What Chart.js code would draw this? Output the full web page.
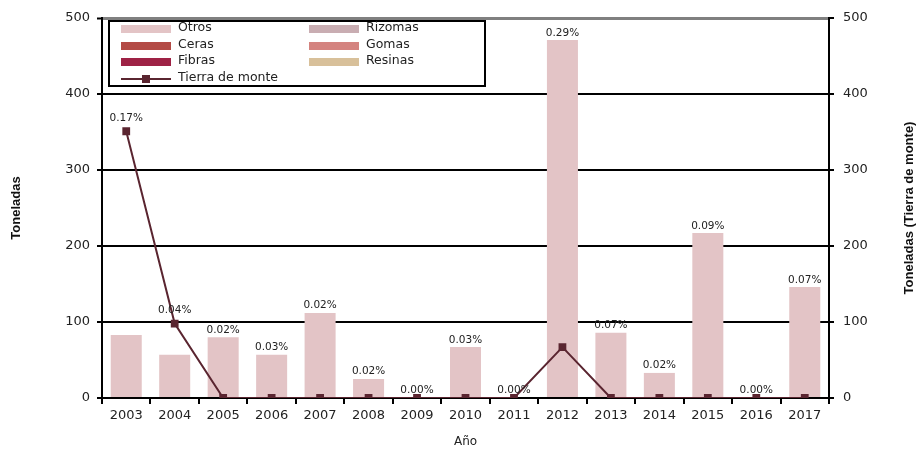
<!DOCTYPE html>
<html>
<head>
<meta charset="utf-8">
<script src="https://cdn.jsdelivr.net/npm/chart.js@4.4.0/dist/chart.umd.min.js"></script>
<style>
  html, body { margin: 0; padding: 0; background: #fff; }
  #wrap { position: relative; width: 916px; height: 449px; }
  #legend {
    position: absolute; left: 108px; top: 20px; width: 374px; height: 63px;
    border: 2px solid #000; background: #fff;
    font-family: "DejaVu Sans", sans-serif; font-size: 12.5px; color: #222;
  }
  .item { position: absolute; height: 16px; line-height: 16px; white-space: nowrap; }
  .sw { position: absolute; left: 0; top: 4px; width: 50px; height: 8px; }
  .ln { position: absolute; left: 0; top: 7px; width: 50px; height: 2px; }
  .mk { position: absolute; left: 21px; top: 4px; width: 8px; height: 8px; }
  .txt { position: absolute; left: 57px; top: -2px; }
</style>
</head>
<body>
<div id="wrap">
  <canvas id="chart" width="916" height="449"></canvas>
  <div id="legend"></div>
</div>
<script>
// Data
const years = ["2003","2004","2005","2006","2007","2008","2009","2010","2011","2012","2013","2014","2015","2016","2017"];
const otros   = [83, 57, 80, 57, 112, 25, 0, 67, 0, 471, 86, 33, 217, 0, 146];
const rizomas = [0, 0, 0, 0, 0, 0, 0, 0, 0, 0, 0, 0, 0, 0, 0];
const ceras   = [0, 0, 0, 0, 0, 0, 0, 0, 0, 0, 0, 0, 0, 0, 0];
const gomas   = [0, 0, 0, 0, 0, 0, 0, 0, 0, 0, 0, 0, 0, 0, 0];
const fibras  = [0, 0, 0, 0, 0, 0, 0, 0, 0, 0, 0, 0, 0, 0, 0];
const resinas = [0, 0, 0, 0, 0, 0, 0, 0, 0, 0, 0, 0, 0, 0, 0];
const tierraDeMonte = [351, 98, 0, 0, 0, 0, 0, 0, 0, 67, 0, 0, 0, 0, 0];
const porcentajes = ["0.17%","0.04%","0.02%","0.03%","0.02%","0.02%","0.00%","0.03%","0.00%","0.29%","0.07%","0.02%","0.09%","0.00%","0.07%"];
const yTicks = [0, 100, 200, 300, 400, 500];

const lineColor = "#5a2530";
const tickFont = { family: "DejaVu Sans", size: 13 };

function barSet(label, data, color) {
  return { type: "bar", label: label, data: data, backgroundColor: color,
           yAxisID: "y", order: 1, barPercentage: 0.64, categoryPercentage: 1 };
}

const datasets = [
  barSet("Otros", otros, "#e3c4c6"),
  barSet("Rizomas", rizomas, "#c9adb2"),
  barSet("Ceras", ceras, "#b34a45"),
  barSet("Gomas", gomas, "#d4837f"),
  barSet("Fibras", fibras, "#9e2245"),
  barSet("Resinas", resinas, "#d8c09a"),
  {
    type: "line", label: "Tierra de monte", data: tierraDeMonte,
    borderColor: lineColor, backgroundColor: lineColor, borderWidth: 2,
    pointStyle: "rect", pointRadius: 5.5, pointBorderWidth: 0,
    yAxisID: "y2", order: 0, tension: 0
  }
];

// percentage labels: above the point when it sits over the bar, else above the bar
const pctLabels = {
  id: "pctLabels",
  afterDatasetsDraw(chart) {
    const ctx = chart.ctx;
    const bars = chart.getDatasetMeta(0).data;
    const pts = chart.getDatasetMeta(6).data;
    ctx.save();
    ctx.font = '10.5px "DejaVu Sans"';
    ctx.fillStyle = "#222";
    ctx.textAlign = "center";
    ctx.textBaseline = "bottom";
    porcentajes.forEach((t, i) => {
      const y = pts[i].y < bars[i].y - 4 ? pts[i].y - 8 : bars[i].y - 2;
      ctx.fillText(t, bars[i].x, y);
    });
    ctx.restore();
  }
};

// right axis title, reading bottom to top
const rightTitle = {
  id: "rightTitle",
  afterDraw(chart) {
    const ctx = chart.ctx;
    const a = chart.chartArea;
    ctx.save();
    ctx.translate(909, (a.top + a.bottom) / 2);
    ctx.rotate(-Math.PI / 2);
    ctx.font = 'bold 13px "Liberation Sans"';
    ctx.fillStyle = "#111";
    ctx.textAlign = "center";
    ctx.textBaseline = "middle";
    ctx.fillText("Toneladas (Tierra de monte)", 0, 0);
    ctx.restore();
  }
};

const chart = new Chart(document.getElementById("chart"), {
  data: { labels: years, datasets: datasets },
  options: {
    responsive: false,
    animation: false,
    layout: { padding: { top: 18, left: 0, right: 0, bottom: 0 } },
    plugins: { legend: { display: false }, tooltip: { enabled: false } },
    scales: {
      x: {
        stacked: true,
        offset: true,
        grid: { offset: true, drawOnChartArea: false, drawTicks: true, tickLength: 6, color: "#000", lineWidth: 2 },
        border: { color: "#000", width: 2 },
        ticks: { color: "#222", font: tickFont, padding: 4, maxRotation: 0 },
        title: { display: true, text: "Año", color: "#222", font: { family: "DejaVu Sans", size: 12 }, padding: { top: 0, bottom: 0 } },
        afterFit(s) { s.height = 51; }
      },
      y: {
        stacked: true,
        position: "left",
        min: 0, max: 500,
        afterBuildTicks(s) { s.ticks = yTicks.map(v => ({ value: v })); },
        grid: {
          color: c => (c.tick && c.tick.value === 500 ? "#808080" : "#000"),
          lineWidth: c => (c.tick && c.tick.value === 500 ? 3 : 2),
          tickColor: "#000", tickLength: 5, tickWidth: 2
        },
        border: { color: "#000", width: 2 },
        ticks: { color: "#222", font: tickFont, padding: 7 },
        title: { display: true, text: "Toneladas", color: "#111", font: { family: "Liberation Sans", size: 13, weight: "bold" }, padding: { top: 9, bottom: 0 } },
        afterFit(s) { s.width = 102; }
      },
      y2: {
        position: "right",
        min: 0, max: 500,
        afterBuildTicks(s) { s.ticks = yTicks.map(v => ({ value: v })); },
        grid: { drawOnChartArea: false, drawTicks: true, tickLength: 5, color: "#000", lineWidth: 2 },
        border: { color: "#000", width: 2 },
        ticks: { color: "#222", font: tickFont, padding: 9 },
        title: { display: false },
        afterFit(s) { s.width = 87; }
      }
    }
  },
  plugins: [pctLabels, rightTitle]
});

// HTML legend built from the chart's datasets, two columns
const legendOrder = [
  [0, 0, 0], [1, 1, 0], [2, 0, 1], [3, 1, 1], [4, 0, 2], [5, 1, 2], [6, 0, 3]
];
const legendEl = document.getElementById("legend");
legendOrder.forEach(([idx, col, row]) => {
  const ds = chart.data.datasets[idx];
  const item = document.createElement("div");
  item.className = "item";
  item.style.left = (col === 0 ? 11 : 199) + "px";
  item.style.top = (-1 + row * 16.5) + "px";
  if (ds.type === "line") {
    item.innerHTML = '<div class="ln" style="background:' + ds.borderColor + '"></div>' +
      '<div class="mk" style="background:' + ds.borderColor + '"></div>';
  } else {
    item.innerHTML = '<div class="sw" style="background:' + ds.backgroundColor + '"></div>';
  }
  const t = document.createElement("span");
  t.className = "txt";
  t.textContent = ds.label;
  item.appendChild(t);
  legendEl.appendChild(item);
});
</script>
</body>
</html>
